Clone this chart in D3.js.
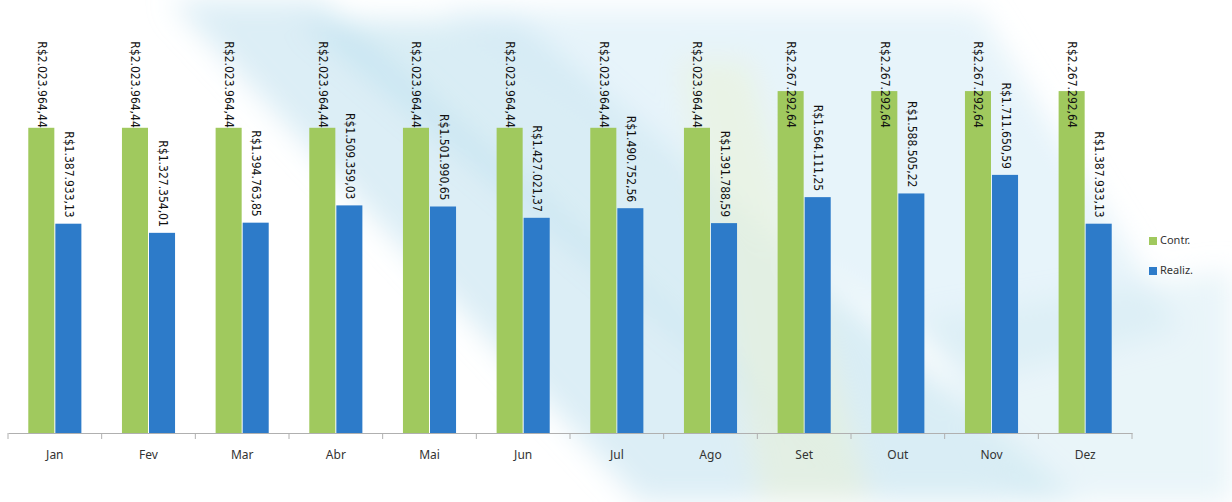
<!DOCTYPE html>
<html>
<head>
<meta charset="utf-8">
<script src="https://cdn.jsdelivr.net/npm/d3@7"></script>
<style>
  body { margin: 0; background: #fff; }
  svg { display: block; }
</style>
</head>
<body>
<div id="chart"></div>
<script>
let months = ['Jan', 'Fev', 'Mar', 'Abr', 'Mai', 'Jun', 'Jul', 'Ago', 'Set', 'Out', 'Nov', 'Dez']
let contr = [2023964.44, 2023964.44, 2023964.44, 2023964.44, 2023964.44, 2023964.44,
  2023964.44, 2023964.44, 2267292.64, 2267292.64, 2267292.64, 2267292.64]
let realiz = [1387933.13, 1327354.01, 1394763.85, 1509359.03, 1501990.65, 1427021.37,
  1490752.56, 1391788.59, 1564111.25, 1588505.22, 1711650.59, 1387933.13]
let seriesNames = ['Contr.', 'Realiz.']
let colors = ['#a0c95e', '#2d7bc9']

let width = 1232
let height = 502
let margin = { top: 56, left: 8, right: 100, bottom: 69 }

let svg = d3.select('#chart')
  .append('svg')
  .attr('width', width)
  .attr('height', height)

// soft watercolor streaks in the background
let defs = svg.append('defs')
defs.append('filter')
  .attr('id', 'blur')
  .attr('x', '-20%').attr('y', '-20%').attr('width', '140%').attr('height', '140%')
  .append('feGaussianBlur')
  .attr('stdDeviation', 14)

let streaks = [
  { pts: [[170, 0], [320, 0], [880, 502], [640, 502]], c: '#c4e2f0', o: 0.6 },
  { pts: [[300, 20], [520, 20], [1080, 502], [880, 502]], c: '#b3dbec', o: 0.5 },
  { pts: [[440, 10], [980, 10], [1180, 330], [980, 380]], c: '#d3ebf5', o: 0.55 },
  { pts: [[680, 60], [750, 60], [870, 502], [760, 502]], c: '#eef2cf', o: 0.45 },
  { pts: [[920, 320], [1232, 270], [1232, 502], [1020, 502]], c: '#d3ebf4', o: 0.5 }
]
svg.append('g')
  .attr('filter', 'url(#blur)')
  .selectAll('path')
  .data(streaks)
  .enter()
  .append('path')
  .attr('d', d => 'M' + d.pts.join('L') + 'Z')
  .attr('fill', d => d.c)
  .attr('opacity', d => d.o)

let data = months.map((m, i) => ({ month: m, values: [contr[i], realiz[i]] }))

let xScale = d3.scaleBand()
  .domain(months)
  .range([margin.left, 1132])

let subScale = d3.scaleBand()
  .domain([0, 1])
  .range([0, xScale.bandwidth()])
  .paddingInner(0.037)
  .paddingOuter(0.75)

let yScale = d3.scaleLinear()
  .domain([0, 2500000])
  .range([height - margin.bottom, margin.top])

let fmt = d3.formatLocale({
  decimal: ',',
  thousands: '.',
  grouping: [3],
  currency: ['R$', '']
}).format('$,.2f')

let groups = svg.append('g')
  .selectAll('.month')
  .data(data)
  .enter()
  .append('g')
  .attr('transform', d => `translate(${xScale(d.month)},0)`)

groups.selectAll('rect')
  .data(d => d.values)
  .enter()
  .append('rect')
  .attr('x', (d, i) => subScale(i))
  .attr('width', subScale.bandwidth())
  .attr('y', d => yScale(d))
  .attr('height', d => yScale(0) - yScale(d))
  .attr('fill', (d, i) => colors[i])

// labels, rotated to read top-to-bottom
let labelFont = '"DejaVu Sans Condensed", "Liberation Sans Narrow", sans-serif'
let minContr = d3.min(contr)
groups.selectAll('.lbl')
  .data(d => d.values)
  .enter()
  .append('text')
  .attr('class', 'lbl')
  .attr('font-family', labelFont)
  .attr('font-size', 12)
  .attr('fill', '#111')
  .attr('text-anchor', 'end')
  .attr('dominant-baseline', 'middle')
  .attr('transform', (d, i) => {
    let cx = subScale(i) + subScale.bandwidth() / 2
    let y = i === 0 ? yScale(minContr) : yScale(d) - 6
    return `translate(${cx},${y}) rotate(90)`
  })
  .text(d => fmt(d))

// x axis
let axisY = yScale(0)
let axis = svg.append('g')
  .attr('transform', `translate(0,${axisY})`)
  .call(d3.axisBottom(xScale).tickSize(0).tickPadding(17))
axis.select('.domain').attr('stroke', '#b0b0b0')
axis.selectAll('text')
  .attr('font-family', '"Noto Sans", sans-serif')
  .attr('font-size', 12)
  .attr('fill', '#333')

let boundaries = months.map(m => xScale(m)).concat([xScale.range()[1]])
axis.selectAll('.bound')
  .data(boundaries)
  .enter()
  .append('line')
  .attr('x1', d => d)
  .attr('x2', d => d)
  .attr('y1', 0)
  .attr('y2', 6)
  .attr('stroke', '#b0b0b0')

// legend
let legend = svg.append('g')
  .attr('transform', 'translate(1149,241)')
  .selectAll('g')
  .data(seriesNames)
  .enter()
  .append('g')
  .attr('transform', (d, i) => `translate(0,${i * 30})`)

legend.append('rect')
  .attr('x', 0)
  .attr('y', -4)
  .attr('width', 8)
  .attr('height', 8)
  .attr('fill', (d, i) => colors[i])

legend.append('text')
  .attr('x', 11)
  .attr('y', 0)
  .attr('dominant-baseline', 'middle')
  .attr('font-family', '"Noto Sans", sans-serif')
  .attr('font-size', 11)
  .attr('fill', '#333')
  .text(d => d)
</script>
</body>
</html>
